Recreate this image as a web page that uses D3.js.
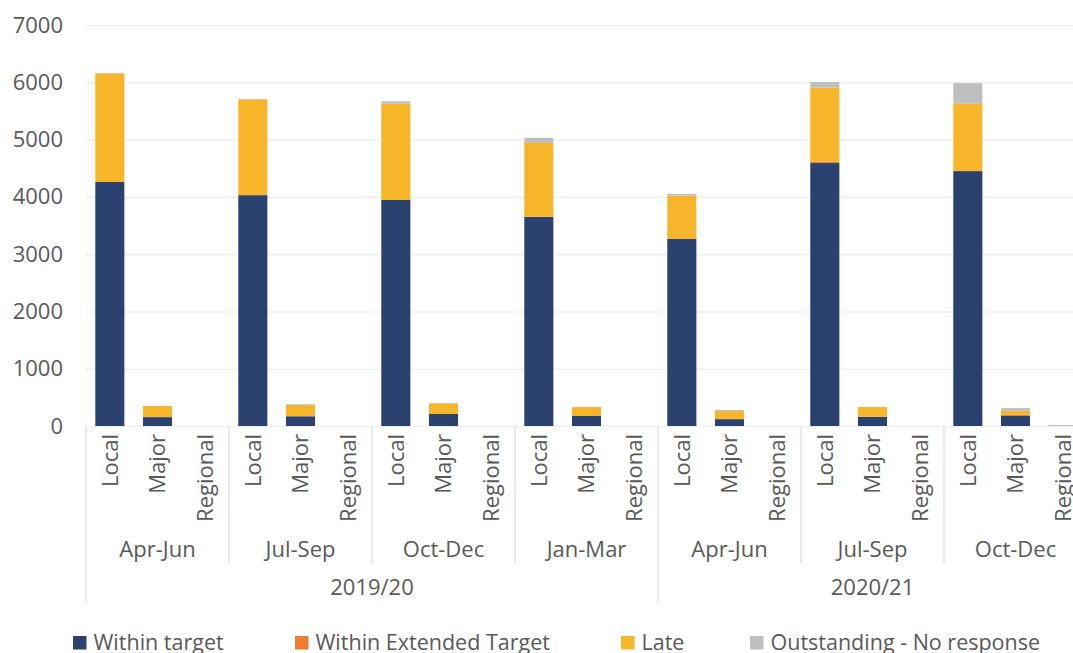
<!DOCTYPE html>
<html>
<head>
<meta charset="utf-8">
<script src="https://cdn.jsdelivr.net/npm/d3@7"></script>
<style>
  body { margin: 0; background: #fff; }
  svg { display: block; font-family: "Open Sans", sans-serif; }
</style>
</head>
<body>
<svg id="chart"></svg>
<script>
const WIDTH = 1073
const HEIGHT = 653

// categories
const years = ["2019/20", "2020/21"]
const quarters = ["Apr-Jun", "Jul-Sep", "Oct-Dec", "Jan-Mar", "Apr-Jun", "Jul-Sep", "Oct-Dec"]
const quarterYear = [0, 0, 0, 0, 1, 1, 1]
const types = ["Local", "Major", "Regional"]

// one value per bar, in order: quarter by quarter, Local / Major / Regional
const withinTarget   = [4260, 155, 0, 4030, 170, 0, 3945, 210, 0, 3650, 175, 0, 3265, 120, 0, 4590, 160, 0, 4450, 175, 5]
const withinExtended = [0, 0, 0, 0, 0, 0, 0, 0, 0, 0, 0, 0, 0, 0, 0, 25, 0, 0, 0, 20, 0]
const late           = [1895, 195, 0, 1670, 195, 0, 1680, 185, 0, 1290, 155, 0, 755, 140, 0, 1290, 170, 0, 1175, 70, 0]
const outstanding    = [10, 0, 0, 10, 15, 0, 45, 5, 0, 90, 5, 0, 30, 20, 0, 100, 5, 0, 360, 47, 10]

const seriesNames = ["Within target", "Within Extended Target", "Late", "Outstanding - No response"]
const seriesKeys = ["within", "extended", "late", "outstanding"]
const yTicks = [0, 1000, 2000, 3000, 4000, 5000, 6000, 7000]

const colours = {
  within: "#2b4170",
  extended: "#ed7d31",
  late: "#f7b62a",
  outstanding: "#bfbfbf"
}
const TEXT = "#595959"

let rows = []
quarters.forEach((q, qi) => {
  types.forEach((t, ti) => {
    let i = qi * 3 + ti
    rows.push({
      id: i,
      type: t,
      within: withinTarget[i],
      extended: withinExtended[i],
      late: late[i],
      outstanding: outstanding[i]
    })
  })
})

let svg = d3.select("#chart")
  .attr("width", WIDTH)
  .attr("height", HEIGHT)

// plot runs past the right edge of the picture, like the reference
let plotLeft = 86, plotRight = 1087, plotTop = 25, plotBottom = 426

let x = d3.scaleBand()
  .domain(rows.map(r => r.id))
  .range([plotLeft, plotRight])
  .paddingInner(0.39)
  .paddingOuter(0.195)

let y = d3.scaleLinear()
  .domain([0, 7000])
  .range([plotBottom, plotTop])

let step = x.step()

// gridlines
svg.append("g")
  .attr("transform", `translate(${plotLeft},0)`)
  .call(d3.axisLeft(y).tickValues(yTicks).tickSize(-(plotRight - plotLeft)).tickFormat(""))
  .call(g => g.select(".domain").remove())
  .call(g => g.selectAll("line").attr("stroke", "#efefef").attr("stroke-width", 1.6))

// y labels
svg.append("g")
  .attr("transform", `translate(63,0)`)
  .call(d3.axisLeft(y).tickValues(yTicks).tickSize(0).tickPadding(0).tickFormat(d3.format("d")))
  .call(g => g.select(".domain").remove())
  .call(g => g.selectAll("text")
    .attr("fill", TEXT)
    .style("font-size", "22px")
    .style("font-family", "Open Sans, sans-serif"))

// bars
let stacked = d3.stack().keys(seriesKeys)(rows)

svg.append("g")
  .selectAll("g")
  .data(stacked)
  .enter()
  .append("g")
  .attr("fill", s => colours[s.key])
  .selectAll("rect")
  .data(s => s)
  .enter()
  .append("rect")
  .attr("x", d => x(d.data.id))
  .attr("width", x.bandwidth())
  .attr("y", d => y(d[1]))
  .attr("height", d => y(d[0]) - y(d[1]))

// category axis: bar type labels
svg.append("g")
  .attr("transform", `translate(0,${plotBottom})`)
  .call(d3.axisBottom(x).tickSize(0).tickFormat(i => rows[i].type))
  .call(g => g.select(".domain").remove())
  .call(g => g.selectAll("text")
    .attr("fill", TEXT)
    .style("font-size", "22px")
    .style("font-family", "Open Sans, sans-serif")
    .attr("text-anchor", "end")
    .attr("transform", "rotate(-90)")
    .attr("x", -8)
    .attr("y", 0)
    .attr("dy", "0.36em"))

// quarter separators and labels
let sepColour = "#e3e3e3"
for (let qi = 0; qi <= quarters.length; qi++) {
  let sx = plotLeft + qi * 3 * step
  let isYear = qi === 0 || qi === quarters.length || quarterYear[qi] !== quarterYear[qi - 1]
  svg.append("line")
    .attr("x1", sx).attr("x2", sx)
    .attr("y1", plotBottom).attr("y2", isYear ? 603 : 563)
    .attr("stroke", sepColour)
    .attr("stroke-width", 1.5)
}

svg.append("g")
  .selectAll("text")
  .data(quarters)
  .enter()
  .append("text")
  .attr("x", (q, qi) => plotLeft + (qi * 3 + 1.5) * step)
  .attr("y", 557)
  .attr("text-anchor", "middle")
  .attr("fill", TEXT)
  .style("font-size", "22px")
  .text(q => q)

svg.append("g")
  .selectAll("text")
  .data(years)
  .enter()
  .append("text")
  .attr("x", (yr, yi) => {
    let qs = quarterYear.map((v, i) => v === yi ? i : -1).filter(i => i >= 0)
    let x0 = plotLeft + qs[0] * 3 * step
    let x1 = plotLeft + (qs[qs.length - 1] + 1) * 3 * step
    return (x0 + x1) / 2
  })
  .attr("y", 595)
  .attr("text-anchor", "middle")
  .attr("fill", TEXT)
  .style("font-size", "22px")
  .text(yr => yr)

// legend
let legendX = [73, 295, 621, 750]
let legend = svg.append("g")
seriesKeys.forEach((key, i) => {
  let item = legend.append("g")
    .attr("transform", `translate(${legendX[i]}, 636)`)
  item.append("rect")
    .attr("width", 13.5)
    .attr("height", 13.5)
    .attr("fill", colours[key])
  item.append("text")
    .attr("x", 20.5)
    .attr("y", 13.5)
    .attr("fill", TEXT)
    .style("font-size", "21.5px")
    .text(seriesNames[i])
})
</script>
</body>
</html>
